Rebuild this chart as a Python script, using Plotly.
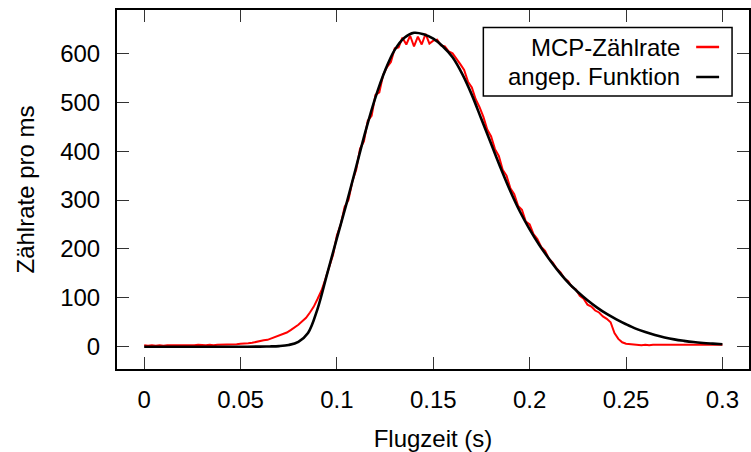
import plotly.graph_objects as go

# ---- data ----
x_fit = [0.0, 0.02, 0.04, 0.05, 0.06, 0.065, 0.07, 0.075, 0.08, 0.085, 0.09, 0.095,
         0.1, 0.105, 0.11, 0.115, 0.12, 0.125, 0.13, 0.135, 0.14, 0.145, 0.15, 0.155,
         0.16, 0.165, 0.17, 0.175, 0.18, 0.185, 0.19, 0.195, 0.2, 0.205, 0.21, 0.215,
         0.22, 0.225, 0.23, 0.235, 0.24, 0.245, 0.25, 0.255, 0.26, 0.265, 0.27, 0.275,
         0.28, 0.285, 0.29, 0.295, 0.3]
y_fit = [0, 0, 0, 0, 0.2, 0.5, 1.2, 3.5, 10, 28, 78, 150,
         222, 293, 368, 443, 510, 565, 607, 632, 642, 639, 630, 614,
         592, 558, 515, 465, 415, 365, 318, 276, 240, 208, 180, 154,
         131, 112, 95, 80, 67, 56, 46, 37, 30, 24, 19, 15,
         12, 9.5, 7.7, 6.3, 5]

x_meas = [round(i * 0.002, 3) for i in range(151)]
y_meas = [3, 2, 3, 2, 3, 2, 3, 3, 2, 3, 3, 2, 3, 3, 4, 3, 3, 4, 3, 4,
          4, 4, 5, 4, 5, 6, 6, 7, 8, 10, 11, 13, 14, 17, 19, 22, 26, 29, 34, 39,
          45, 52, 59, 70, 82, 98, 115, 138, 162, 188, 228, 250, 286, 300, 338, 362, 405, 420, 462, 472,
          515, 520, 556, 572, 582, 610, 612, 632, 618, 636, 614, 634, 618, 640, 620, 626, 628, 616, 614, 604,
          600, 590, 578, 566, 542, 530, 506, 490, 470, 444, 430, 404, 390, 362, 350, 324, 312, 288, 280, 256,
          250, 230, 220, 204, 196, 180, 172, 160, 152, 140, 134, 122, 117, 104, 98, 86, 82, 74, 70, 62,
          57, 50, 28, 16, 9, 6, 5, 4, 4, 3, 4, 3, 4, 4, 3, 4, 3, 4, 4, 3,
          4, 4, 3, 4, 4, 3, 4, 4, 3, 4, 4]

x_ticks = [0, 0.05, 0.1, 0.15, 0.2, 0.25, 0.3]
x_tick_labels = ["0", "0.05", "0.1", "0.15", "0.2", "0.25", "0.3"]
y_ticks = [0, 100, 200, 300, 400, 500, 600]

legend_labels = ["MCP-Zählrate", "angep. Funktion"]
colors = ["#ff0000", "#000000"]

FONT = "Liberation Sans, Arial, sans-serif"

fig = go.Figure()
fig.add_trace(go.Scatter(x=x_meas, y=y_meas, mode="lines",
                         line=dict(color=colors[0], width=2), name=legend_labels[0]))
fig.add_trace(go.Scatter(x=x_fit, y=y_fit, mode="lines", line_shape="spline",
                         line=dict(color=colors[1], width=2.6), name=legend_labels[1]))

axis_common = dict(showline=True, linecolor="black", linewidth=2, mirror="ticks",
                   ticks="inside", ticklen=12, tickwidth=1, tickcolor="#333333",
                   showgrid=False, zeroline=False,
                   tickfont=dict(family=FONT, size=24, color="black"))

L, R, T, B = 117, 0, 10, 83
W, H = 751, 452
PW, PH = W - L - R, H - T - B

fig.update_layout(
    width=W, height=H,
    margin=dict(l=L, r=R, t=T, b=B),
    paper_bgcolor="white", plot_bgcolor="white",
    showlegend=False,
    xaxis=dict(range=[-0.0141, 0.3138], tickvals=x_ticks, ticktext=x_tick_labels,
               ticklabelstandoff=8,
               title=dict(text="Flugzeit (s)", font=dict(family=FONT, size=24, color="black"),
                          standoff=21),
               **axis_common),
    yaxis=dict(range=[-45.6, 688.6], tickvals=y_ticks, ticklabelstandoff=10,
               title=dict(text="Zählrate pro ms", font=dict(family=FONT, size=24, color="black"),
                          standoff=19),
               **axis_common),
)

# custom gnuplot-style legend (text right, sample line on the right); pixel -> paper
def px(x):
    return (x - L) / PW
def py(y):
    return (H - B - y) / PH

fig.add_shape(type="rect", xref="paper", yref="paper",
              x0=px(484.5), x1=px(734), y0=py(96), y1=py(27.5),
              line=dict(color="black", width=1.5), fillcolor="white")
rows = [47, 77]
for lab, col, yy in zip(legend_labels, colors, rows):
    fig.add_annotation(xref="paper", yref="paper", x=px(684), y=py(yy),
                       text=lab, showarrow=False, xanchor="right", yanchor="middle",
                       font=dict(family=FONT, size=24, color="black"))
    fig.add_shape(type="line", xref="paper", yref="paper",
                  x0=px(698), x1=px(721), y0=py(yy), y1=py(yy),
                  line=dict(color=col, width=2.5))

fig.write_html("out.html")
